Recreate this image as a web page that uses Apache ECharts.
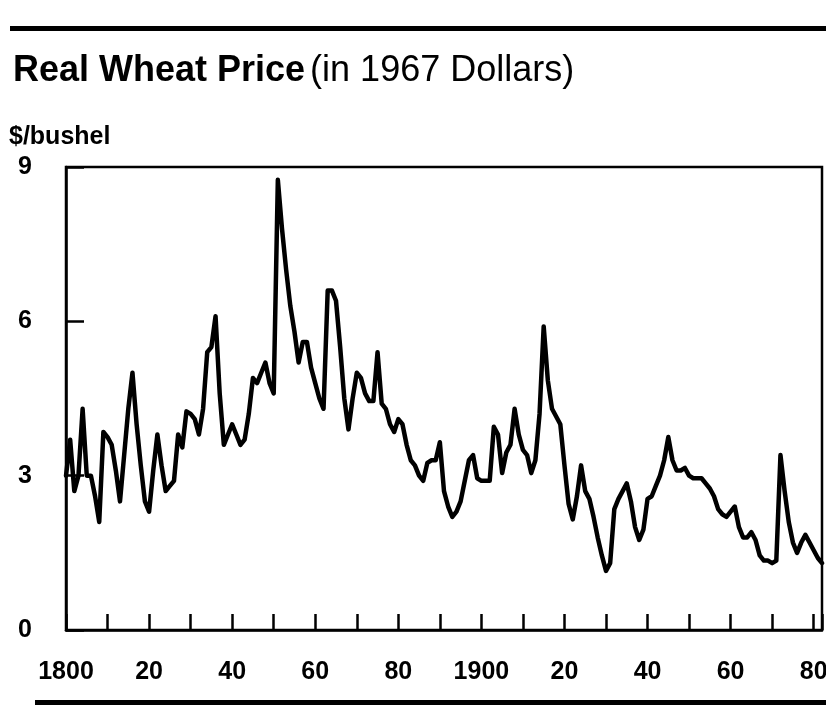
<!DOCTYPE html>
<html>
<head>
<meta charset="utf-8">
<title>Real Wheat Price</title>
<script src="https://cdn.jsdelivr.net/npm/echarts@6/dist/echarts.min.js"></script>
<style>
  html, body { margin: 0; padding: 0; background: #fff; }
  #main { width: 826px; height: 715px; }
</style>
</head>
<body>
<div id="main"></div>
<script>
// years 1800..1982, one value per year ($/bushel, 1967 dollars)
let firstYear = 1800;
let prices = [
    3.0, 3.7, 2.7, 3.0, 4.3, 3.0, 3.0, 2.6, 2.1, 3.85,   // 1800s
    3.75, 3.6, 3.1, 2.5, 3.4, 4.3, 5.0, 4.0, 3.2, 2.5,   // 1810s
    2.3, 3.1, 3.8, 3.2, 2.7, 2.8, 2.9, 3.8, 3.55, 4.25,  // 1820s
    4.2, 4.1, 3.8, 4.3, 5.4, 5.5, 6.1, 4.6, 3.6, 3.8,    // 1830s
    4.0, 3.8, 3.6, 3.7, 4.2, 4.9, 4.8, 5.0, 5.2, 4.8,    // 1840s
    4.6, 8.75, 7.8, 7.0, 6.3, 5.8, 5.2, 5.6, 5.6, 5.1,   // 1850s
    4.8, 4.5, 4.3, 6.6, 6.6, 6.4, 5.5, 4.5, 3.9, 4.5,    // 1860s
    5.0, 4.9, 4.6, 4.45, 4.45, 5.4, 4.4, 4.3, 4.0, 3.85, // 1870s
    4.1, 4.0, 3.6, 3.3, 3.2, 3.0, 2.9, 3.25, 3.3, 3.3,   // 1880s
    3.65, 2.7, 2.4, 2.2, 2.3, 2.5, 2.9, 3.3, 3.4, 2.95,  // 1890s
    2.9, 2.9, 2.9, 3.95, 3.8, 3.05, 3.45, 3.6, 4.3, 3.8, // 1900s
    3.5, 3.4, 3.05, 3.3, 4.2, 5.9, 4.85, 4.3, 4.15, 4.0, // 1910s
    3.2, 2.45, 2.15, 2.6, 3.2, 2.7, 2.55, 2.2, 1.8, 1.45, // 1920s
    1.15, 1.3, 2.35, 2.55, 2.7, 2.85, 2.5, 2.0, 1.75, 1.95, // 1930s
    2.55, 2.6, 2.8, 3.0, 3.3, 3.75, 3.3, 3.1, 3.1, 3.15, // 1940s
    3.0, 2.95, 2.95, 2.95, 2.85, 2.75, 2.6, 2.35, 2.25, 2.2, // 1950s
    2.3, 2.4, 2.0, 1.8, 1.8, 1.9, 1.75, 1.45, 1.35, 1.35, // 1960s
    1.3, 1.35, 3.4, 2.7, 2.1, 1.7, 1.5, 1.7, 1.85, 1.7,  // 1970s
    1.55, 1.4, 1.3                                        // 1980s
];
let yTicks = [0, 3, 6, 9];
let xTickStep = 10;
let xLabelStep = 20;

let series = prices.map(function(v, i){
    return [firstYear + i, v];
});

let chartDom = document.getElementById('main');
let myChart = echarts.init(chartDom);
let font = '"Liberation Sans", Arial, sans-serif';

let option = {
    backgroundColor: '#fff',
    animation: false,
    title: {
        left: 8,
        top: 48,
        text: '{b|Real Wheat Price} {r|(in 1967 Dollars)}',
        textStyle: {
            rich: {
                b: { fontFamily: font, fontSize: 36, fontWeight: 'bold', color: '#000' },
                r: { fontFamily: font, fontSize: 36, fontWeight: 'normal', color: '#000' }
            }
        }
    },
    graphic: [
        { type: 'rect', shape: { x: 10, y: 26, width: 816, height: 5 }, style: { fill: '#000' } },
        { type: 'rect', shape: { x: 35, y: 700, width: 791, height: 5 }, style: { fill: '#000' } },
        {
            type: 'text', left: 9, top: 125,
            style: { text: '$/bushel', fontFamily: font, fontSize: 25, fontWeight: 'bold', fill: '#000' }
        }
    ],
    grid: {
        left: 66,
        right: 4,
        top: 167,
        bottom: 85,
        outerBoundsMode: 'none',
        containLabel: false,
        show: true,
        borderColor: '#000',
        borderWidth: 2.5,
        backgroundColor: 'transparent'
    },
    xAxis: {
        type: 'value',
        min: firstYear,
        max: 1982,
        interval: xTickStep,
        axisLine: { show: true, lineStyle: { color: '#000', width: 2.5 } },
        axisTick: { show: true, inside: true, length: 16, lineStyle: { color: '#000', width: 2.5 } },
        splitLine: { show: false },
        axisLabel: {
            margin: 30,
            color: '#000',
            fontFamily: font,
            fontSize: 25,
            fontWeight: 'bold',
            formatter: function(v){
                if (v % xLabelStep !== 0) return '';
                if (v % 100 === 0) return String(v);
                return String(v % 100);
            }
        }
    },
    yAxis: {
        type: 'value',
        min: yTicks[0],
        max: yTicks[yTicks.length - 1],
        interval: yTicks[1] - yTicks[0],
        axisLine: { show: true, lineStyle: { color: '#000', width: 2.5 } },
        axisTick: { show: true, inside: true, length: 18, lineStyle: { color: '#000', width: 2.5 } },
        splitLine: { show: false },
        axisLabel: {
            margin: 34,
            color: '#000',
            fontFamily: font,
            fontSize: 25,
            fontWeight: 'bold'
        }
    },
    series: [
        {
            type: 'line',
            data: series,
            showSymbol: false,
            symbol: 'none',
            lineStyle: { color: '#000', width: 4.5, join: 'round', cap: 'round' },
            clip: false
        }
    ]
};

option && myChart.setOption(option);
</script>
</body>
</html>
